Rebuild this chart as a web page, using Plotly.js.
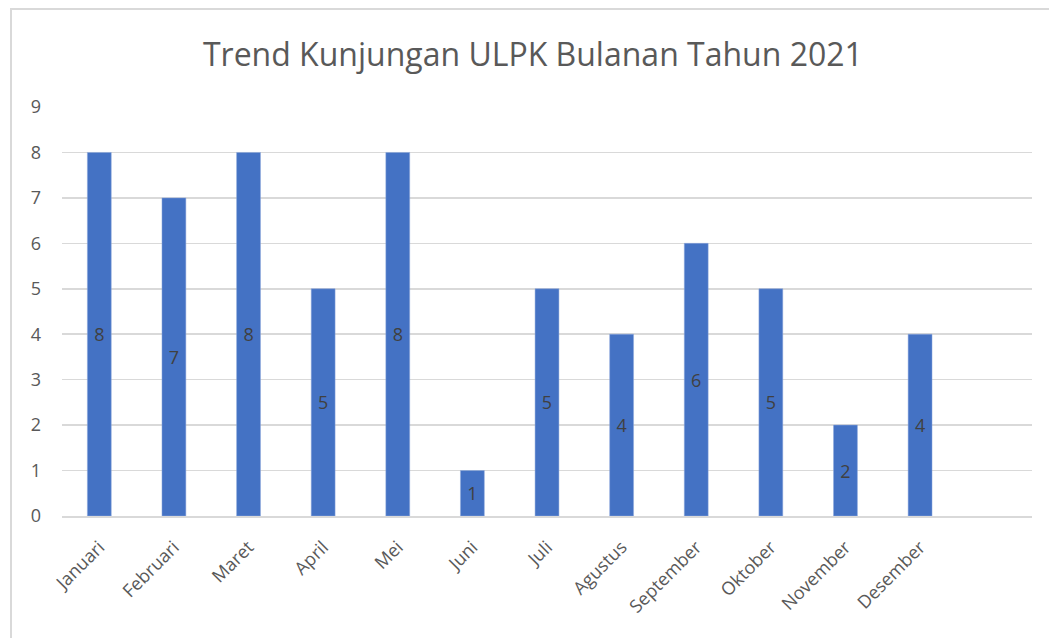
<!DOCTYPE html>
<html>
<head>
<meta charset="utf-8">
<script src="https://cdn.plot.ly/plotly-3.0.1.min.js"></script>
<style>
html,body{margin:0;padding:0;background:#fff;}
#chart{width:1049px;height:638px;position:relative;}
#frame{position:absolute;left:10px;top:8px;width:1200px;height:800px;border:2px solid #d9d9d9;pointer-events:none;box-sizing:border-box;}
</style>
</head>
<body>
<div id="chart"></div>
<div id="frame"></div>
<script>
const months = ["Januari","Februari","Maret","April","Mei","Juni","Juli","Agustus","September","Oktober","November","Desember"];
const visits = [8,7,8,5,8,1,5,4,6,5,2,4];
const yTicks = [0,1,2,3,4,5,6,7,8,9];
const chartTitle = "Trend Kunjungan ULPK Bulanan Tahun 2021";

const font = "'Open Sans', 'Liberation Sans', sans-serif";

Plotly.newPlot("chart", [{
  type: "bar",
  x: months,
  y: visits,
  text: visits.map(String),
  textposition: "inside",
  insidetextanchor: "middle",
  constraintext: "none",
  textangle: 0,
  textfont: {family: font, size: 18, color: "#404040"},
  marker: {color: "#4472C4", line: {color: "#8fa9dc", width: 0.5}},
  hoverinfo: "none"
}], {
  width: 1049, height: 638,
  margin: {l: 62, r: 17, t: 107, b: 122},
  paper_bgcolor: "#fff", plot_bgcolor: "#fff",
  bargap: 0.68,
  title: {text: chartTitle, x: 0.508, xanchor: "center", xref: "container", y: 0.914, yanchor: "middle",
          font: {family: font, size: 32, color: "#595959"}},
  xaxis: {
    type: "category",
    categoryorder: "array", categoryarray: months,
    range: [-0.5, 12.5],
    tickangle: -45,
    tickfont: {family: font, size: 18, color: "#595959"},
    showgrid: false, zeroline: false,
    showline: true, linecolor: "#d9d9d9", linewidth: 1.5,
    ticks: "",
    ticklabelstandoff: 12
  },
  yaxis: {
    range: [0, 9],
    tickvals: yTicks,
    ticktext: yTicks.map(String),
    tickfont: {family: font, size: 18, color: "#595959"},
    showgrid: true, gridcolor: "#d9d9d9", gridwidth: 1.5,
    zeroline: false, showline: false, ticks: "",
    ticklabelstandoff: 20
  },
  showlegend: false
}, {staticPlot: true});
</script>
</body>
</html>
